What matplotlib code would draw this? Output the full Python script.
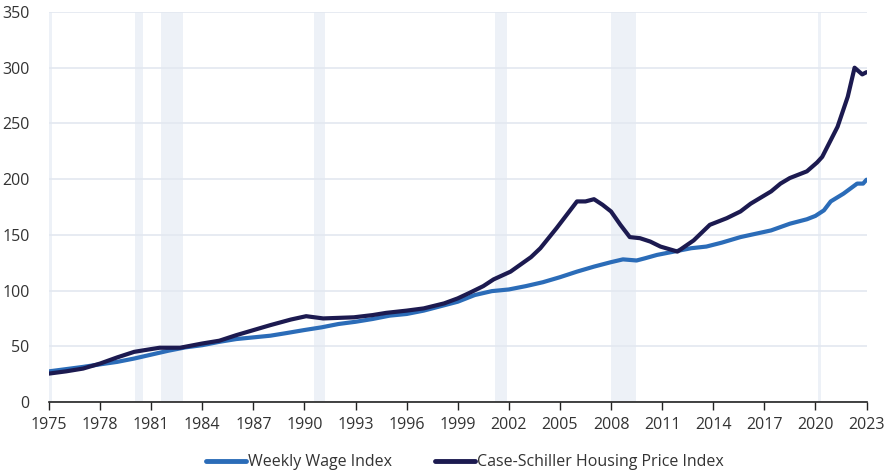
import matplotlib
matplotlib.use("Agg")
import matplotlib.pyplot as plt
from matplotlib.lines import Line2D

plt.rcParams.update({
    "font.family": ["Open Sans", "DejaVu Sans"],
    "font.size": 11,
})

# ── Data ──────────────────────────────────────────────────────────────────────
wage_years = [1975.0, 1976.0, 1977.0, 1978.0, 1979.0, 1980.0, 1981.0, 1982.0,
              1983.0, 1984.0, 1985.0, 1986.0, 1987.0, 1988.0, 1989.0, 1990.0,
              1991.0, 1992.0, 1993.0, 1994.0, 1995.0, 1996.0, 1997.0, 1998.0,
              1999.0, 2000.0, 2001.0, 2002.0, 2003.0, 2004.0, 2005.0, 2006.0,
              2007.0, 2008.0, 2008.7, 2009.5, 2010.0, 2010.7, 2011.7, 2012.7,
              2013.6, 2014.5, 2015.6, 2016.5, 2017.4, 2018.5, 2019.5, 2020.0,
              2020.5, 2020.9, 2021.65, 2022.45, 2022.8, 2023.0]
wage_index = [27.5, 29.5, 31.5, 33.8, 36, 39, 42.5, 46,
              49, 51, 54, 56.5, 58, 59.5, 62, 64.6,
              67, 70, 72, 74.5, 77.5, 79, 82, 86,
              90, 96, 99.5, 101, 104, 107.5, 112, 117,
              121.5, 125.5, 128, 127, 129, 132, 135, 138,
              139.5, 143, 148, 151, 154, 160, 164, 167,
              172, 180, 187, 196, 196, 199.5]

house_years = [1975.0, 1976.0, 1977.0, 1978.0, 1979.0, 1980.0, 1981.0, 1981.5,
               1982.7, 1984.0, 1985.0, 1986.0, 1987.0, 1988.0, 1989.2, 1990.1,
               1991.1, 1992.9, 1994.0, 1994.8, 1996.0, 1997.0, 1998.2, 1999.0,
               1999.7, 2000.5, 2001.1, 2002.1, 2003.3, 2003.85, 2004.8, 2005.5,
               2006.0, 2006.5, 2007.0, 2007.5, 2008.0, 2008.55, 2009.1, 2009.7,
               2010.3, 2010.9, 2011.9, 2012.85, 2013.8, 2014.8, 2015.6, 2016.2,
               2017.4, 2017.95, 2018.5, 2019.5, 2020.1, 2020.4, 2021.3, 2021.9,
               2022.3, 2022.75, 2023.0]
house_index = [25.5, 27.5, 30, 34.5, 40, 45, 47.5, 48.7,
               48.7, 52.5, 55, 60, 64.5, 69, 74, 77,
               75, 76, 78, 80, 82, 84, 88.5, 93,
               98, 104, 110, 117, 130, 138, 156, 170,
               180, 180, 182, 177, 171, 159, 148, 147,
               144, 139.5, 135, 145, 159, 165, 171, 178,
               189, 196, 201, 207, 215, 220, 247, 274,
               300, 294, 296]

recessions = [(1975.0, 1975.2), (1980.05, 1980.52), (1981.58, 1982.87),
              (1990.57, 1991.2), (2001.2, 2001.88), (2008.0, 2009.48),
              (2020.15, 2020.32)]

x_ticks = [1975, 1978, 1981, 1984, 1987, 1990, 1993, 1996, 1999, 2002,
           2005, 2008, 2011, 2014, 2017, 2020, 2023]
y_ticks = [0, 50, 100, 150, 200, 250, 300, 350]

WAGE_COL = "#2b6cb8"
HOUSE_COL = "#1c1a50"
BAND_COL = "#edf1f7"
GRID_COL = "#e3e8f0"

# ── Plot ──────────────────────────────────────────────────────────────────────
fig = plt.figure(figsize=(8.94, 4.74), dpi=100, facecolor="white")
ax = fig.add_axes([49 / 894, 1 - 402 / 474, (866.5 - 49) / 894, 390 / 474])

for a, b in recessions:
    ax.axvspan(a, b, color=BAND_COL, lw=0, zorder=0)

ax.plot(wage_years, wage_index, color=WAGE_COL, lw=3.0,
        solid_capstyle="round", solid_joinstyle="round", zorder=3)
ax.plot(house_years, house_index, color=HOUSE_COL, lw=3.0,
        solid_capstyle="round", solid_joinstyle="round", zorder=4)

ax.set_xlim(1975, 2023)
ax.set_ylim(0, 350)
ax.set_xticks(x_ticks)
ax.set_yticks(y_ticks)
ax.yaxis.grid(True, color=GRID_COL, lw=1.2, zorder=1)
ax.set_axisbelow(True)

for sp in ("top", "right", "left"):
    ax.spines[sp].set_visible(False)
ax.spines["bottom"].set_color("#222222")
ax.spines["bottom"].set_linewidth(1.2)
ax.spines["bottom"].set_zorder(5)
ax.tick_params(axis="x", length=6, width=1.0, color="#222222",
               labelsize=11.5, labelcolor="#333333", pad=5)
ax.tick_params(axis="y", length=0, labelsize=11.5, labelcolor="#333333", pad=14)

handles = [Line2D([], [], color=WAGE_COL, lw=3.5, solid_capstyle="round"),
           Line2D([], [], color=HOUSE_COL, lw=3.5, solid_capstyle="round")]
fig.legend(handles, ["Weekly Wage Index", "Case-Schiller Housing Price Index"],
           loc="center", bbox_to_anchor=(0.52, 0.025), ncol=2, frameon=False,
           fontsize=11.5, handlelength=2.5, handletextpad=0.1, columnspacing=2.75,
           labelcolor="#333333")

fig.savefig("out.png", dpi=100, facecolor="white")
plt.close(fig)
